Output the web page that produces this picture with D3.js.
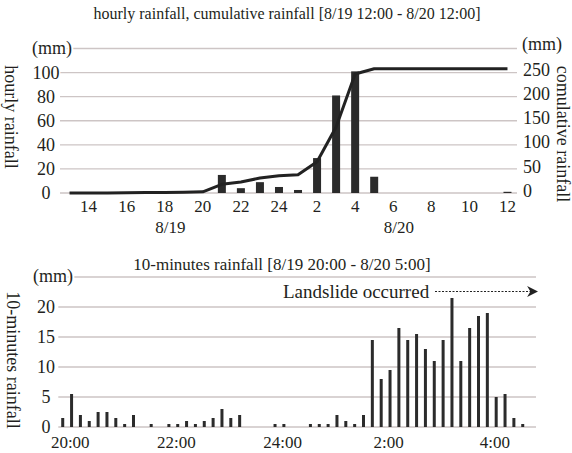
<!DOCTYPE html>
<html><head><meta charset="utf-8">
<script src="https://cdn.jsdelivr.net/npm/d3@7"></script>
<style>
body{margin:0;background:#fff;}
svg{display:block;}
text{font-family:"Liberation Serif","Times New Roman",serif;fill:#231f20;}
</style></head><body>
<svg id="c" width="572" height="453"></svg>
<script>
// ---------- data: top chart (hourly, 8/19 13:00 .. 8/20 12:00) ----------
const hourCats = ["13","14","15","16","17","18","19","20","21","22","23","24",
                  "1","2","3","4","5","6","7","8","9","10","11","12"];
const hourlyRain = [0,0,0,0,0,0,0,0, 15,4,9,5, 2.5,29,81,101, 13.5,0,0,0, 0,0,0,1];
const cumulativeRain = [0,0,0,0.5,1,1,1.5,2.5, 18,23,31,36, 38,65,137,247, 258,258,258,258, 258,258,258,258];
const hourTickLabels = ["14","16","18","20","22","24","2","4","6","8","10","12"];
const dateLabels = [["18","8/19"],["6","8/20"]];
const leftTicks = [0,20,40,60,80,100];
const rightTicks = [0,50,100,150,200,250];
const topGrid = [0,20,40,60,80,100,120];

// ---------- data: bottom chart (10-minute, 8/19 20:00 .. 8/20 5:00) ----------
const tenMinRain = [1.5,5.5,2,1,2.5,2.5,1.5,0.5,2,0,
                    0.5,0,0.5,0.5,1,0.5,1,1.5,3,1.5,
                    2,0,0,0,0.5,0.5,0,0,0.5,0.5,
                    0.5,2,1,0.5,2,14.5,8,9.5,16.5,14.5,
                    15.5,13,11,14.5,21.5,11,16.5,18.5,19,5,
                    5.5,1.5,0.5,0];
const tenMinTickLabels = ["20:00","22:00","24:00","2:00","4:00"];
const tenMinTickSlots = [0,12,24,36,48];
const bottomTicks = [0,5,10,15,20];
const bottomGrid = [0,5,10,15,20,25];

const svg = d3.select("#c");
svg.append("rect").attr("width",572).attr("height",453).attr("fill","#fff");
const gridColor = "#cdc5c5", ink = "#2b2b2b";
const FS_TITLE = 16, FS_TITLE2 = 17, FS_TICK = 18, FS_X = 17, FS_AX = 18, FS_NOTE = 19;

// ================= TOP CHART =================
const xT = d3.scaleBand().domain(hourCats).range([60,517]);
const yL = d3.scaleLinear().domain([0,120]).range([193,48.5]);
const yR = d3.scaleLinear().domain([0,300]).range([193,48.5]);
const cx = c => xT(c) + xT.bandwidth()/2;

const gTop = svg.append("g");
gTop.append("text").attr("x",287).attr("y",19).attr("text-anchor","middle")
   .attr("font-size",FS_TITLE).text("hourly rainfall, cumulative rainfall [8/19 12:00 - 8/20 12:00]");

gTop.selectAll("line.g").data(topGrid).join("line")
   .attr("x1",60).attr("x2",517).attr("y1",d=>yL(d)).attr("y2",d=>yL(d))
   .attr("stroke",gridColor).attr("stroke-width",1.4);

gTop.selectAll("text.yl").data(leftTicks).join("text")
   .attr("x",46).attr("y",d=>yL(d)).attr("dy","0.35em").attr("text-anchor","middle")
   .attr("font-size",FS_TICK).attr("stroke","#fff").attr("stroke-width",3).attr("paint-order","stroke").text(d=>d);
gTop.append("text").attr("x",72).attr("y",yL(120)).attr("dy","0.3em").attr("text-anchor","end")
   .attr("font-size",FS_TICK).attr("stroke","#fff").attr("stroke-width",4).attr("paint-order","stroke").text("(mm)");

gTop.selectAll("text.yr").data(rightTicks).join("text")
   .attr("x",523).attr("y",d=>yR(d)).attr("dy","0.2em").attr("text-anchor","start")
   .attr("font-size",FS_TICK).text(d=>d);
gTop.append("text").attr("x",522).attr("y",yR(300)).attr("dy","0.1em").attr("text-anchor","start")
   .attr("font-size",FS_TICK).text("(mm)");

gTop.append("text").attr("transform","translate(5,117) rotate(90)").attr("text-anchor","middle")
   .attr("font-size",FS_AX).text("hourly rainfall");
gTop.append("text").attr("transform","translate(557,134) rotate(90)").attr("text-anchor","middle")
   .attr("font-size",FS_AX).text("comulative rainfall");

// bars
gTop.selectAll("rect.b").data(hourCats.map((c,i)=>({c,v:hourlyRain[i]})).filter(d=>d.v>0)).join("rect")
   .attr("x",d=>cx(d.c)-4).attr("width",8)
   .attr("y",d=>yL(d.v)).attr("height",d=>yL(0)-yL(d.v)).attr("fill",ink);

// cumulative line
gTop.append("path").datum(hourCats.map((c,i)=>({c,v:cumulativeRain[i]})))
   .attr("d",d3.line().x(d=>cx(d.c)).y(d=>yR(d.v)))
   .attr("fill","none").attr("stroke","#222").attr("stroke-width",3).attr("stroke-linejoin","round");

// x labels
gTop.selectAll("text.xl").data(hourTickLabels).join("text")
   .attr("x",d=>cx(d)).attr("y",212).attr("text-anchor","middle").attr("font-size",FS_X).text(d=>d);
gTop.selectAll("text.dl").data(dateLabels).join("text")
   .attr("x",d=>cx(d[0])+xT.bandwidth()*0.3).attr("y",233).attr("text-anchor","middle")
   .attr("font-size",FS_X).text(d=>d[1]);

// ================= BOTTOM CHART =================
const xB = d3.scaleBand().domain(d3.range(tenMinRain.length)).range([58.3,536]);
const yB = d3.scaleLinear().domain([0,25]).range([427,277]);
const gBot = svg.append("g");

gBot.append("text").attr("x",282).attr("y",270).attr("text-anchor","middle")
   .attr("font-size",FS_TITLE2).text("10-minutes rainfall [8/19 20:00 - 8/20 5:00]");

gBot.selectAll("line.g").data(bottomGrid).join("line")
   .attr("x1",58.3).attr("x2",536).attr("y1",d=>yB(d)).attr("y2",d=>yB(d))
   .attr("stroke",gridColor).attr("stroke-width",1.4);

gBot.selectAll("text.yl").data(bottomTicks).join("text")
   .attr("x",46).attr("y",d=>yB(d)).attr("dy","0.35em").attr("text-anchor","middle")
   .attr("font-size",FS_TICK).text(d=>d);
gBot.append("text").attr("x",73).attr("y",yB(25)).attr("dy","0.3em").attr("text-anchor","end")
   .attr("font-size",FS_TICK).attr("stroke","#fff").attr("stroke-width",4).attr("paint-order","stroke").text("(mm)");

gBot.append("text").attr("transform","translate(7,360) rotate(90)").attr("text-anchor","middle")
   .attr("font-size",FS_AX).text("10-minutes rainfall");

gBot.selectAll("rect.b").data(tenMinRain.map((v,i)=>({i,v})).filter(d=>d.v>0)).join("rect")
   .attr("x",d=>xB(d.i)+xB.bandwidth()/2-1.5).attr("width",3)
   .attr("y",d=>yB(d.v)).attr("height",d=>yB(0)-yB(d.v)).attr("fill",ink);

gBot.selectAll("text.xl").data(tenMinTickSlots).join("text")
   .attr("x",d=>xB(d)+xB.bandwidth()*1.35).attr("y",448).attr("text-anchor","middle")
   .attr("font-size",FS_X).text((d,i)=>tenMinTickLabels[i]);

// landslide annotation
svg.append("defs").append("marker").attr("id","arr").attr("viewBox","0 0 10 10")
   .attr("refX",9).attr("refY",5).attr("markerWidth",11).attr("markerHeight",11)
   .attr("markerUnits","userSpaceOnUse").attr("orient","auto")
   .append("path").attr("d","M0,0 L10,5 L0,10 L3,5 Z").attr("fill","#222");
gBot.append("text").attr("x",283).attr("y",298).attr("font-size",FS_NOTE).text("Landslide occurred");
gBot.append("line").attr("x1",435).attr("x2",537).attr("y1",291.5).attr("y2",291.5)
   .attr("stroke","#222").attr("stroke-width",1).attr("stroke-dasharray","2,1.5").attr("marker-end","url(#arr)");
</script>
</body></html>
